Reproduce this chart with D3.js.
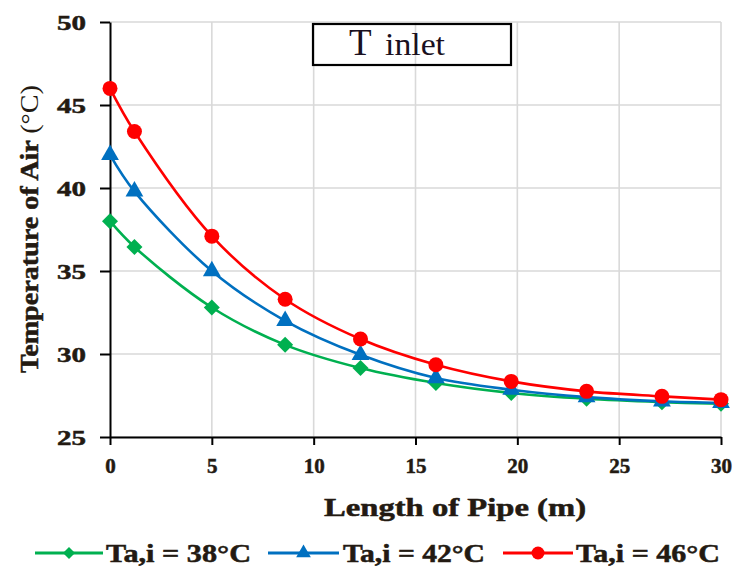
<!DOCTYPE html>
<html>
<head>
<meta charset="utf-8">
<script src="https://cdn.jsdelivr.net/npm/d3@7"></script>
<style>
  html, body { margin: 0; padding: 0; background: #fff; }
  svg { display: block; }
  text { font-family: "Liberation Serif", "Times New Roman", serif; }
  .heavy { stroke: #231a12; stroke-width: 0.5px; }
</style>
</head>
<body>
<svg id="chart" width="737" height="568"></svg>
<script>
// Pipe length positions (m) where the air temperature was evaluated
const lengths = [0, 1.2, 5, 8.6, 12.3, 16, 19.7, 23.4, 27.1, 30];
// Air temperature along the pipe (°C) for each inlet temperature
const temp38 = [38.0, 36.45, 32.8, 30.55, 29.15, 28.25, 27.65, 27.3, 27.1, 27.0];
const temp42 = [42.0, 39.8, 35.0, 32.0, 29.95, 28.55, 27.85, 27.4, 27.15, 27.05];
const temp46 = [46.0, 43.4, 37.1, 33.3, 30.9, 29.35, 28.35, 27.75, 27.45, 27.25];
const seriesNames = ["Ta,i = 38°C", "Ta,i = 42°C", "Ta,i = 46°C"];
const xTicks = [0, 5, 10, 15, 20, 25, 30];
const yTicks = [25, 30, 35, 40, 45, 50];

const colors = ["#00b050", "#0070c0", "#ff0000"];
const shapes = ["diamond", "triangle", "circle"];
const seriesValues = [temp38, temp42, temp46];

const svg = d3.select("#chart");
const plotL = 110, plotR = 721, plotT = 22, plotB = 437;

const x = d3.scaleLinear().domain([0, 30]).range([plotL, plotR]);
const y = d3.scaleLinear().domain([25, 50]).range([plotB, plotT]);

const textColor = "#231a12";

// gridlines
const grid = svg.append("g");
grid.selectAll("line.h").data(yTicks).join("line")
  .attr("class", "h")
  .attr("x1", plotL).attr("x2", plotR)
  .attr("y1", d => y(d)).attr("y2", d => y(d))
  .attr("stroke", "#d9d9d9").attr("stroke-width", 1.6);
grid.selectAll("line.v").data(xTicks.slice(1)).join("line")
  .attr("class", "v")
  .attr("x1", d => x(d)).attr("x2", d => x(d))
  .attr("y1", plotT).attr("y2", plotB)
  .attr("stroke", "#d9d9d9").attr("stroke-width", 1.6);

// x axis
const xAxis = svg.append("g")
  .attr("transform", `translate(0,${plotB})`)
  .call(d3.axisBottom(x).tickValues(xTicks).tickSize(8).tickSizeOuter(0).tickPadding(12));
xAxis.select(".domain").attr("stroke", "#000").attr("stroke-width", 2);
xAxis.selectAll(".tick line").attr("stroke", "#000").attr("stroke-width", 2);
xAxis.selectAll(".tick text")
  .attr("class", "heavy")
  .attr("font-family", "Liberation Serif").attr("font-weight", "bold")
  .attr("font-size", 21).attr("fill", textColor).attr("dy", "0.75em");

// y axis
const yAxis = svg.append("g")
  .attr("transform", `translate(${plotL},0)`)
  .call(d3.axisLeft(y).tickValues(yTicks).tickSize(10).tickSizeOuter(0).tickPadding(14));
yAxis.select(".domain").attr("stroke", "#000").attr("stroke-width", 2);
yAxis.selectAll(".tick line").attr("stroke", "#000").attr("stroke-width", 2);
yAxis.selectAll(".tick text")
  .attr("class", "heavy")
  .attr("font-family", "Liberation Serif").attr("font-weight", "bold")
  .attr("font-size", 22).attr("fill", textColor)
  .attr("textLength", 29).attr("lengthAdjust", "spacingAndGlyphs");

// axis titles
svg.append("text")
  .attr("class", "heavy")
  .attr("x", 455).attr("y", 516)
  .attr("text-anchor", "middle")
  .attr("font-weight", "bold").attr("font-size", 25)
  .attr("fill", textColor)
  .attr("textLength", 262).attr("lengthAdjust", "spacingAndGlyphs")
  .text("Length of Pipe (m)");

const yTitle = svg.append("text")
  .attr("transform", "translate(38,229) rotate(-90)")
  .attr("text-anchor", "middle")
  .attr("font-weight", "bold").attr("font-size", 26)
  .attr("fill", textColor)
  .attr("textLength", 288).attr("lengthAdjust", "spacingAndGlyphs");
yTitle.append("tspan").attr("class", "heavy").text("Temperature of Air ");
yTitle.append("tspan").attr("font-weight", "normal").text("(°C)");

// annotation box
svg.append("rect")
  .attr("x", 313).attr("y", 24).attr("width", 198).attr("height", 41)
  .attr("fill", "none").attr("stroke", "#000").attr("stroke-width", 2.2);
const boxText = svg.append("text").attr("y", 55).attr("fill", "#1a1020");
boxText.append("tspan").attr("x", 349).attr("font-size", 37).text("T");
boxText.append("tspan").attr("x", 385).attr("font-size", 31)
  .attr("textLength", 60).attr("lengthAdjust", "spacingAndGlyphs").text("inlet");

// marker paths
function markerPath(shape, s) {
  if (shape === "diamond") {
    return `M0,${-s}L${s},0L0,${s}L${-s},0Z`;
  }
  if (shape === "triangle") {
    return d3.symbol(d3.symbolTriangle, s * s * 1.9)();
  }
  return d3.symbol(d3.symbolCircle, Math.PI * s * s)();
}
const markerScale = [8, 8.5, 7.5];
const legendScale = [6, 7, 6.5];

// lines and markers
const line = d3.line()
  .x(d => x(d[0])).y(d => y(d[1]))
  .curve(d3.curveCatmullRom.alpha(0.5));

seriesValues.forEach((vals, i) => {
  const pts = lengths.map((l, j) => [l, vals[j]]);
  const g = svg.append("g");
  g.append("path").datum(pts)
    .attr("d", line)
    .attr("fill", "none").attr("stroke", colors[i]).attr("stroke-width", 2.6);
  g.selectAll("path.m").data(pts).join("path")
    .attr("class", "m")
    .attr("transform", d => `translate(${x(d[0])},${y(d[1])})`)
    .attr("d", markerPath(shapes[i], markerScale[i]))
    .attr("fill", colors[i]);
});

// legend
const legendItems = [
  { x1: 35, x2: 103, tx: 106, tw: 145 },
  { x1: 268, x2: 339, tx: 343, tw: 142 },
  { x1: 503, x2: 573, tx: 576, tw: 144 }
];
const ly = 553;
legendItems.forEach((it, i) => {
  const g = svg.append("g");
  g.append("line").attr("x1", it.x1).attr("x2", it.x2).attr("y1", ly).attr("y2", ly)
    .attr("stroke", colors[i]).attr("stroke-width", 3);
  g.append("path")
    .attr("transform", `translate(${(it.x1 + it.x2) / 2},${ly})`)
    .attr("d", markerPath(shapes[i], legendScale[i]))
    .attr("fill", colors[i]);
  g.append("text")
    .attr("class", "heavy")
    .attr("x", it.tx).attr("y", ly + 9)
    .attr("font-weight", "bold").attr("font-size", 25)
    .attr("fill", textColor)
    .attr("textLength", it.tw).attr("lengthAdjust", "spacingAndGlyphs")
    .text(seriesNames[i]);
});
</script>
</body>
</html>
